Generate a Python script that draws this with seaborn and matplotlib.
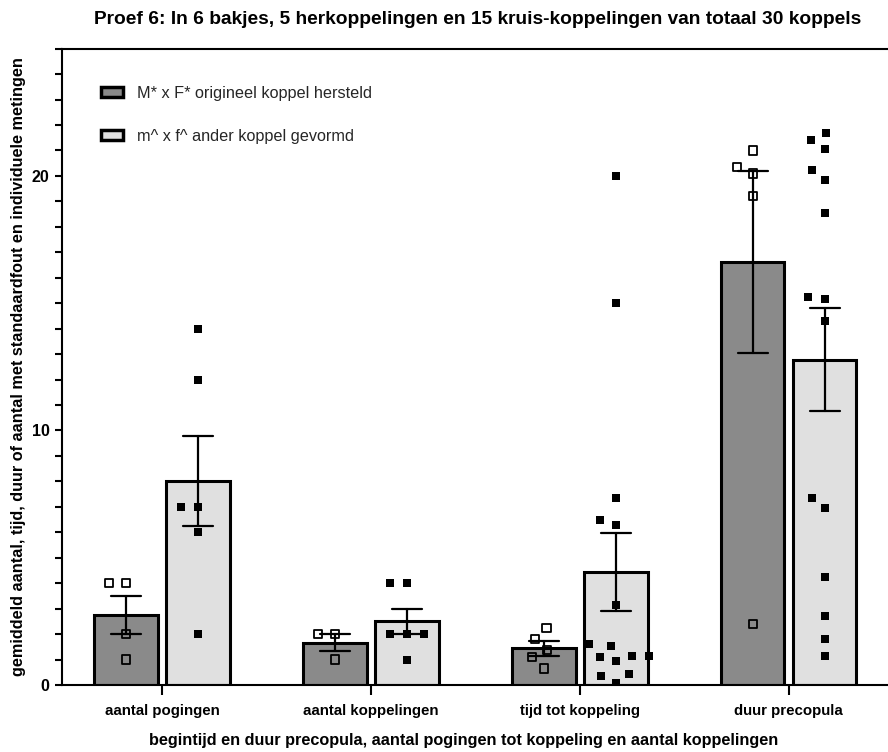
import numpy as np
import pandas as pd
import matplotlib
matplotlib.use("Agg")
import matplotlib.pyplot as plt
from matplotlib.patches import Patch
from matplotlib.ticker import FixedLocator
import seaborn as sns

# --- data -------------------------------------------------------------------
categorieen = ["aantal pogingen", "aantal koppelingen", "tijd tot koppeling", "duur precopula"]
groepen = ["M* x F* origineel koppel hersteld", "m^ x f^ ander koppel gevormd"]

# herkoppelingen (originele koppels hersteld)
hersteld_pogingen = [4, 4, 2, 1]
hersteld_koppelingen = [2, 2, 1]
hersteld_tijd = [2.25, 1.8, 1.375, 1.1, 0.65]
hersteld_duur = [21.0, 20.35, 20.1, 19.2, 2.4]

# kruis-koppelingen (ander koppel gevormd)
kruis_pogingen = [14, 12, 7, 7, 6, 2]
kruis_koppelingen = [4, 4, 2, 2, 2, 1]
kruis_tijd = [20, 15, 7.35, 6.5, 6.3, 3.15, 1.6, 1.55, 1.15, 1.15, 1.1, 0.95, 0.45, 0.35, 0.07]
kruis_duur = [21.7, 21.4, 21.05, 20.25, 19.85, 18.55, 15.25, 15.15, 14.3,
              7.35, 6.95, 4.25, 2.7, 1.8, 1.15]

titel = "Proef 6: In 6 bakjes, 5 herkoppelingen en 15 kruis-koppelingen van totaal 30 koppels"
x_label = "begintijd en duur precopula, aantal pogingen tot koppeling en aantal koppelingen"
y_label = "gemiddeld aantal, tijd, duur of aantal met standaardfout en individuele metingen"

# --- long table ---------------------------------------------------------------
metingen = {
    groepen[0]: [hersteld_pogingen, hersteld_koppelingen, hersteld_tijd, hersteld_duur],
    groepen[1]: [kruis_pogingen, kruis_koppelingen, kruis_tijd, kruis_duur],
}
rijen = []
for groep, reeksen in metingen.items():
    for cat, waarden in zip(categorieen, reeksen):
        for w in waarden:
            rijen.append({"categorie": cat, "groep": groep, "waarde": w})
df = pd.DataFrame(rijen)

# --- style --------------------------------------------------------------------
sns.set_theme(style="ticks")
plt.rcParams["font.family"] = ["Liberation Sans", "DejaVu Sans"]

DONKER = "#8a8a8a"
LICHT = "#e0e0e0"
GROEP_BREEDTE = 0.69
MARKER = 6.0          # drawn marker size (pt)
SWARM_AFSTAND = 11.5  # marker size used for the swarm spacing (pt)

fig = plt.figure(figsize=(8.88, 7.52), dpi=100)
ax = fig.add_axes([0.0698, 0.0891, 0.929, 0.8462])

# x position of each point: category index shifted onto its dodged bar
cat_idx = df["categorie"].map({c: i for i, c in enumerate(categorieen)})
verschuiving = np.where(df["groep"] == groepen[0], -GROEP_BREEDTE / 4, GROEP_BREEDTE / 4)
df["xpos"] = cat_idx + verschuiving

# individual measurements as square swarms
swarm_collecties = []
for groep, open_marker in zip(groepen, [True, False]):
    sub = df[df["groep"] == groep]
    n0 = len(ax.collections)
    sns.swarmplot(data=sub, x="xpos", y="waarde", native_scale=True, orient="v",
                  color="black", marker="s",
                  size=SWARM_AFSTAND - (1.3 if open_marker else 0.0),
                  linewidth=1.3 if open_marker else 0, ax=ax, zorder=4)
    for c in ax.collections[n0:]:
        if open_marker:
            c.set_facecolor("none")
            c.set_edgecolor("black")
            c.set_linewidth(1.3)
        swarm_collecties.append(c)

# mean bars with standard error
sns.barplot(data=df, x="categorie", y="waarde", hue="groep", order=categorieen,
            hue_order=groepen, palette=[DONKER, LICHT], saturation=1,
            errorbar="se", capsize=0.29,
            err_kws={"color": "black", "linewidth": 1.6},
            width=GROEP_BREEDTE, gap=0.12, edgecolor="black", linewidth=2.2,
            legend=False, ax=ax)

# --- axes ---------------------------------------------------------------------
ax.set_xlim(-0.479, 3.47)
ax.set_ylim(0, 25)
ax.set_yticks([0, 10, 20])
ax.yaxis.set_minor_locator(FixedLocator([v for v in range(1, 26) if v % 10]))
ax.set_yticklabels(["0", "10", "20"], fontweight="bold", fontsize=11.5)
ax.set_xticks(range(len(categorieen)))
ax.set_xticklabels(categorieen, fontweight="bold", fontsize=10.8)

for kant in ["left", "bottom", "top"]:
    ax.spines[kant].set_linewidth(1.5)
    ax.spines[kant].set_color("black")
ax.spines["right"].set_visible(False)

ax.tick_params(axis="y", which="both", direction="out", length=5, width=1.5,
               color="black", pad=4, labelcolor="black")
ax.tick_params(axis="x", which="major", direction="out", length=7, width=1.5,
               color="black", pad=7, labelcolor="black")

ax.set_xlabel(x_label, fontweight="bold", fontsize=11.7, labelpad=11, color="black")
ax.xaxis.set_label_coords(0.487, -0.075)
ax.set_ylabel(y_label, fontweight="bold", fontsize=11.7, labelpad=4, color="black")
fig.text(0.538, 1 - 20 / 752, titel, ha="center", va="center",
         fontweight="bold", fontsize=13.8, color="black")

# legend
handles = [Patch(facecolor=DONKER, edgecolor="black", linewidth=2.5),
           Patch(facecolor=LICHT, edgecolor="black", linewidth=2.5)]
ax.legend(handles, groepen, loc="upper left", bbox_to_anchor=(0.040, 0.952),
          frameon=False, fontsize=11.7, handlelength=1.35, handleheight=0.55,
          handletextpad=0.85, labelspacing=1.75, borderaxespad=0)

# lay out the swarms at the wide spacing, then freeze them and shrink the markers
fig.canvas.draw()
for c in swarm_collecties:
    if "draw" in c.__dict__:
        del c.draw
    c.set_sizes([MARKER ** 2])

fig.savefig("out.png", dpi=100)
